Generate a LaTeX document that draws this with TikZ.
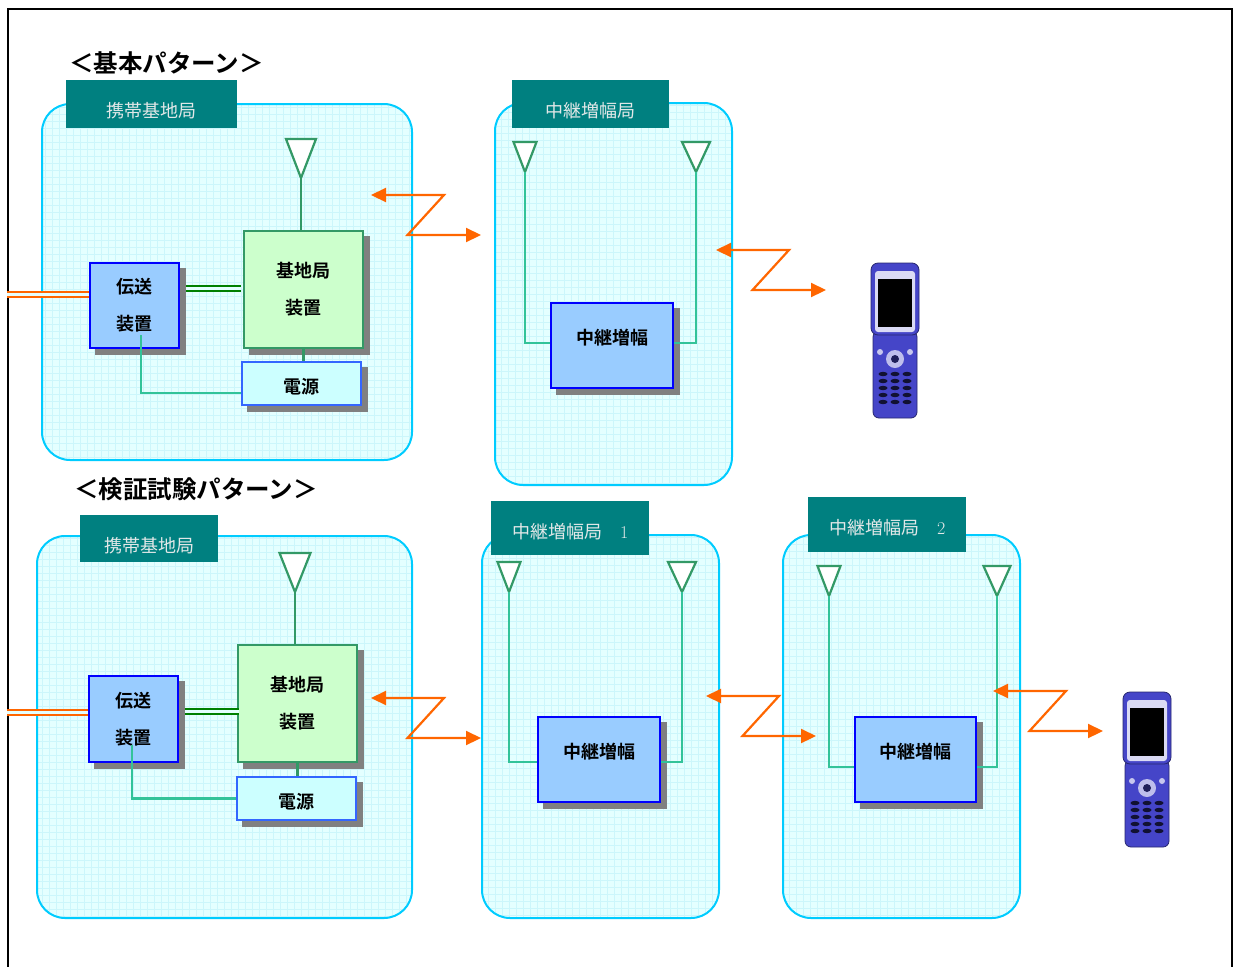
\documentclass[tikz,border=0pt]{standalone}
\usepackage{fontspec}
\newfontfamily\jp[BoldFont={Noto Sans CJK JP Bold}]{Noto Sans CJK JP}
\usetikzlibrary{arrows.meta,shadows}

\definecolor{roomline}{HTML}{00CCFF}
\definecolor{roomfill}{HTML}{E4FFFF}
\definecolor{roomgrid}{HTML}{CCF6FB}
\definecolor{tagfill}{HTML}{008080}
\definecolor{tagtext}{HTML}{E2E8E8}
\definecolor{aerialgreen}{HTML}{339966}
\definecolor{wiregreen}{HTML}{33C399}
\definecolor{trunkgreen}{HTML}{008000}
\definecolor{radioorange}{HTML}{FF6600}
\definecolor{unitblue}{HTML}{99CCFF}
\definecolor{unitgreen}{HTML}{CCFFCC}
\definecolor{unitcyan}{HTML}{CCFFFF}
\definecolor{psuline}{HTML}{3366FF}
\definecolor{phoneblue}{HTML}{4545C8}

\tikzset{
  room/.style={draw=roomline, line width=2pt, fill=roomfill, rounded corners=28pt,
    path picture={\draw[roomgrid, line width=0.5pt, step=7pt]
      (path picture bounding box.south west) grid (path picture bounding box.north east);}},
  tag/.style={fill=tagfill, text=tagtext, anchor=north west, inner sep=0pt,
    text height=37pt, text depth=11pt, font=\jp\fontsize{18}{20}\selectfont},
  heading/.style={anchor=west, inner sep=0pt, font=\jp\bfseries\fontsize{24.5}{30}\selectfont},
  unit/.style={line width=1.6pt, align=center, inner sep=0pt,
    font=\jp\bfseries\fontsize{18}{37}\selectfont,
    general shadow={fill=gray, draw=gray, shadow xshift=6pt, shadow yshift=-6pt}},
  txunit/.style={unit, fill=unitblue, draw=blue, minimum width=89, minimum height=85},
  bsunit/.style={unit, fill=unitgreen, draw=aerialgreen, minimum width=119, minimum height=117},
  psunit/.style={unit, fill=unitcyan, draw=psuline, minimum width=119, minimum height=43,
    text height=21pt, text depth=2pt},
  ampunit/.style={unit, fill=unitblue, draw=blue, minimum width=122, minimum height=85,
    text height=14pt, text depth=17pt},
  aerial/.style={draw=aerialgreen, line width=2.2pt},
  wire/.style={draw=wiregreen, line width=2.2pt},
  trunk/.style={draw=trunkgreen, line width=2.2pt, double=roomfill, double distance=2.5pt},
  feeder/.style={draw=radioorange, line width=2pt, double=roomfill, double distance=2.5pt},
  radio/.style={draw=radioorange, line width=2.2pt,
    arrows={Triangle[length=15pt,width=14pt]-Triangle[length=15pt,width=14pt]}},
  pics/antenna/.style 2 args={code={
    \draw[aerial, fill=white] (0,0) -- (-#1/2,-#2) -- (#1/2,-#2) -- cycle;}},
  pics/handset/.style={code={
    % lower half with the keypad
    \filldraw[fill=phoneblue, draw=phoneblue!55!black, line width=0.8pt, rounded corners=6pt]
      (-22,68) rectangle (22,155);
    \fill[phoneblue!35!white] (0,96) circle (9pt);
    \fill[phoneblue!45!black] (0,96) circle (4pt);
    \fill[phoneblue!30!white] (-15,89) circle (3pt) (15,89) circle (3pt);
    \foreach \ky in {111,118,125,132,139}
      \foreach \kx in {-12,0,12}
        \fill[phoneblue!25!black] (\kx,\ky) ellipse [x radius=4.5pt, y radius=2.2pt];
    % upper half with the screen
    \filldraw[fill=phoneblue, draw=phoneblue!55!black, line width=0.8pt, rounded corners=7pt]
      (-24,0) rectangle (24,72);
    \fill[phoneblue!20!white, rounded corners=3pt] (-20,8) rectangle (20,69);
    \fill[black] (-17,16) rectangle (17,64);
  }}
}

\begin{document}
\begin{tikzpicture}[x=1pt, y=-1pt]
  \useasboundingbox (0,0) rectangle (1235,967);
  \draw[line width=1.5pt] (8,967) -- (8,9) -- (1232,9) -- (1232,967);

  % basic pattern
  \node[heading] (head1) at (69,63) {＜基本パターン＞};
  \node[room, minimum width=370, minimum height=356] (site) at (227,282) {};
  \node[room, minimum width=237, minimum height=382] (rsite) at (613.5,294) {};
  \node[tag, minimum width=171] (sitetag) at (66,80) {携帯基地局};
  \node[tag, minimum width=157] (rsitetag) at (512,80) {中継増幅局};

  \coordinate (bsA) at (301,178);
  \coordinate (rA1) at (525,172);
  \coordinate (rA2) at (696,172);
  \pic at (bsA) {antenna={30}{39}};
  \pic at (rA1) {antenna={23}{30}};
  \pic at (rA2) {antenna={28}{30}};

  \node[bsunit] (bs) at (303.5,289.5) {基地局\\装置};
  \node[txunit] (tx) at (134.5,305.5) {伝送\\装置};
  \node[psunit] (ps) at (301.5,383.5) {電源};
  \node[ampunit] (amp) at (612,345.5) {中継増幅};

  \draw[aerial] (bsA) -- (bsA |- bs.north);
  \draw[aerial] (bs.south) -- (bs.south |- ps.north);
  \draw[trunk] ([xshift=6pt,yshift=17pt]tx.east) -- ++(55,0);
  \draw[feeder] ([yshift=11pt]tx.west) -- ++(-82,0);
  \draw[wire] ([shift={(6.5,29.5)}]tx.center) |- ([yshift=-9.5pt]ps.west);
  \draw[wire] (rA1) |- ([yshift=2.5pt]amp.west);
  \draw[wire] (rA2) |- ([yshift=2.5pt]amp.east);

  \pic at (895,263) {handset};

  % verification pattern
  \node[heading] (head2) at (74,489) {＜検証試験パターン＞};
  \node[room, minimum width=375, minimum height=382] (site2) at (224.5,727) {};
  \node[room, minimum width=237, minimum height=383] (rsite1) at (600.5,726.5) {};
  \node[room, minimum width=237, minimum height=383] (rsite2) at (901.5,726.5) {};
  \node[tag, minimum width=138, text depth=10pt] (site2tag) at (80,515) {携帯基地局};
  \node[tag, minimum width=158, text depth=17pt] (rsite1tag) at (491,501) {中継増幅局　{\rmfamily 1}};
  \node[tag, minimum width=158, text depth=18pt] (rsite2tag) at (808,497) {中継増幅局　{\rmfamily 2}};

  \coordinate (bsB) at (295,592);
  \coordinate (rB1) at (509,592);
  \coordinate (rB2) at (682,592);
  \coordinate (rC1) at (829,596);
  \coordinate (rC2) at (997,596);
  \pic at (bsB) {antenna={31}{39}};
  \pic at (rB1) {antenna={23}{30}};
  \pic at (rB2) {antenna={28}{30}};
  \pic at (rC1) {antenna={23}{30}};
  \pic at (rC2) {antenna={27}{30}};

  \node[bsunit] (bs2) at (297.5,703.5) {基地局\\装置};
  \node[txunit, minimum height=86] (tx2) at (133.5,719) {伝送\\装置};
  \node[psunit] (ps2) at (296.5,798.5) {電源};
  \node[ampunit] (amp1) at (599,759.5) {中継増幅};
  \node[ampunit, minimum width=121] (amp2) at (915.5,759.5) {中継増幅};

  \draw[aerial] (bsB) -- (bsB |- bs2.north);
  \draw[aerial] (bs2.south) -- (bs2.south |- ps2.north);
  \draw[trunk] ([xshift=6pt,yshift=7.5pt]tx2.east) -- ++(54,0);
  \draw[feeder] ([yshift=6.5pt]tx2.west) -- ++(-81,0);
  \draw[wire] ([shift={(-1.5,26)}]tx2.center) |- (ps2.west);
  \draw[wire] (rB1) |- ([yshift=-2.5pt]amp1.west);
  \draw[wire] (rB2) |- ([yshift=-2.5pt]amp1.east);
  \draw[wire] (rC1) |- ([yshift=-7.5pt]amp2.west);
  \draw[wire] (rC2) |- ([yshift=-7.5pt]amp2.east);

  \pic at (1147,692) {handset};

  % radio links
  \foreach \lx/\ty in {371/195, 716/250, 371/698, 706/696, 993/691}
    \draw[radio] (\lx,\ty) -- ++(73,0) -- ++(-36.5,40) -- ++(73.5,0);
\end{tikzpicture}
\end{document}
